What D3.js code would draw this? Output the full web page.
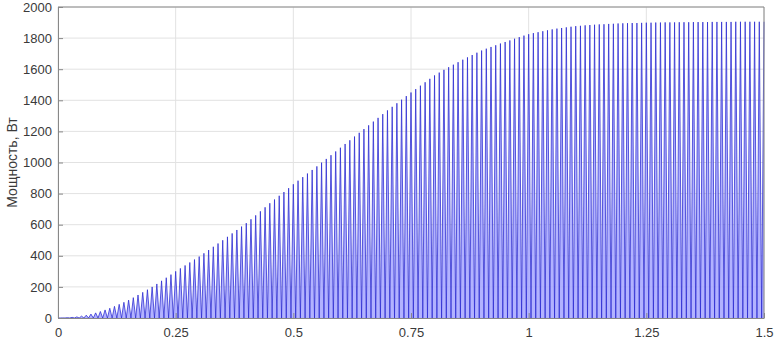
<!DOCTYPE html>
<html>
<head>
<meta charset="utf-8">
<script src="https://cdn.jsdelivr.net/npm/d3@7"></script>
<style>
  body { margin: 0; background: #fff; }
  .tick text { font-family: "Liberation Sans", Arial, sans-serif; font-size: 13px; fill: #3a3a3a; }
</style>
</head>
<body>
<div id="chart"></div>
<script>
// peak power of each 100 Hz pulse, one every 0.01 s from t = 0 to 1.5 s
var peakPower = [
  0, 0.5, 2, 4, 7, 12, 18, 25, 33, 42,
  52, 63, 75, 88, 101, 115, 131, 148, 165, 182,
  200, 219, 239, 259, 279, 300, 319, 338, 357, 376,
  395, 416, 437, 458, 479, 500, 522, 544, 566, 588,
  610, 635, 660, 686, 712, 738, 762, 786, 810, 835,
  860, 883, 906, 929, 952, 975, 999, 1023, 1047, 1071,
  1095, 1119, 1143, 1167, 1191, 1215, 1239, 1263, 1287, 1311,
  1335, 1358, 1381, 1404, 1427, 1450, 1472, 1494, 1516, 1538,
  1560, 1578, 1596, 1613, 1629, 1645, 1661, 1676, 1691, 1706,
  1720, 1732, 1743, 1754, 1765, 1775, 1785, 1796, 1806, 1816,
  1825, 1832, 1838, 1844, 1850, 1856, 1861, 1865, 1869, 1873,
  1877, 1879, 1882, 1884, 1886, 1888, 1889, 1891, 1892, 1894,
  1895, 1896, 1897, 1897, 1898, 1899, 1899, 1900, 1900, 1901,
  1901, 1901, 1902, 1902, 1902, 1903, 1903, 1903, 1903, 1904,
  1904, 1904, 1904, 1904, 1905, 1905, 1905, 1905, 1905, 1905,
  1905
];
var pulseStep = 0.01;
var xTicks = [0, 0.25, 0.5, 0.75, 1, 1.25, 1.5];
var xTickLabels = ["0", "0.25", "0.5", "0.75", "1", "1.25", "1.5"];
var yTicks = [0, 200, 400, 600, 800, 1000, 1200, 1400, 1600, 1800, 2000];
var yLabel = "Мощность, Вт";

var svgWidth = 778;
var svgHeight = 342;
var margin = { top: 7, right: 14, bottom: 24, left: 58 };
var width = svgWidth - margin.left - margin.right;
var height = svgHeight - margin.top - margin.bottom;

var svg = d3.select("#chart")
  .append("svg")
  .attr("width", svgWidth)
  .attr("height", svgHeight);

var chartGroup = svg.append("g")
  .attr("transform", `translate(${margin.left}, ${margin.top})`);

var x = d3.scaleLinear().domain([0, 1.5]).range([0, width]);
var y = d3.scaleLinear().domain([0, 2000]).range([height, 0]);

// grid
chartGroup.append("g")
  .selectAll("line")
  .data(xTicks)
  .enter()
  .append("line")
  .attr("x1", d => x(d)).attr("x2", d => x(d))
  .attr("y1", 0).attr("y2", height)
  .attr("stroke", "#e2e2e2");

chartGroup.append("g")
  .selectAll("line")
  .data(yTicks)
  .enter()
  .append("line")
  .attr("x1", 0).attr("x2", width)
  .attr("y1", d => y(d)).attr("y2", d => y(d))
  .attr("stroke", "#e2e2e2");

// pulses: peak at each step, back to zero half a step later
var points = [];
peakPower.forEach(function(p, i) {
  points.push([i * pulseStep, p]);
  if (i < peakPower.length - 1) points.push([i * pulseStep + pulseStep / 2, 0]);
});

var area = d3.area()
  .x(d => x(d[0]))
  .y0(y(0))
  .y1(d => y(d[1]));

var line = d3.line()
  .x(d => x(d[0]))
  .y(d => y(d[1]));

chartGroup.append("path")
  .datum(points)
  .attr("fill", "#a4a4ff")
  .attr("fill-opacity", 0.85)
  .attr("d", area);

chartGroup.append("path")
  .datum(points)
  .attr("fill", "none")
  .attr("stroke", "#2a2ad0")
  .attr("stroke-width", 0.75)
  .attr("d", line);

// axes
var bottomAxis = d3.axisBottom(x)
  .tickValues(xTicks)
  .tickFormat((d, i) => xTickLabels[i])
  .tickSizeInner(-5)
  .tickSizeOuter(0)
  .tickPadding(10);
var leftAxis = d3.axisLeft(y)
  .tickValues(yTicks)
  .tickFormat(d3.format("d"))
  .tickSizeInner(-5)
  .tickSizeOuter(0)
  .tickPadding(6);

var xAxis = chartGroup.append("g")
  .attr("transform", `translate(0, ${height})`)
  .call(bottomAxis);
var yAxis = chartGroup.append("g")
  .call(leftAxis);

[xAxis, yAxis].forEach(function(a) {
  a.select(".domain").attr("stroke", "#888");
  a.selectAll(".tick line").attr("stroke", "#888");
});

// box top and right
chartGroup.append("line")
  .attr("x1", 0).attr("x2", width).attr("y1", 0).attr("y2", 0)
  .attr("stroke", "#888");
chartGroup.append("line")
  .attr("x1", width).attr("x2", width).attr("y1", 0).attr("y2", height)
  .attr("stroke", "#888");

svg.append("text")
  .attr("transform", `translate(17, ${margin.top + height / 2}) rotate(-90)`)
  .attr("text-anchor", "middle")
  .attr("font-family", "Liberation Sans, Arial, sans-serif")
  .attr("font-size", "14px")
  .attr("fill", "#3a3a3a")
  .text(yLabel);
</script>
</body>
</html>
